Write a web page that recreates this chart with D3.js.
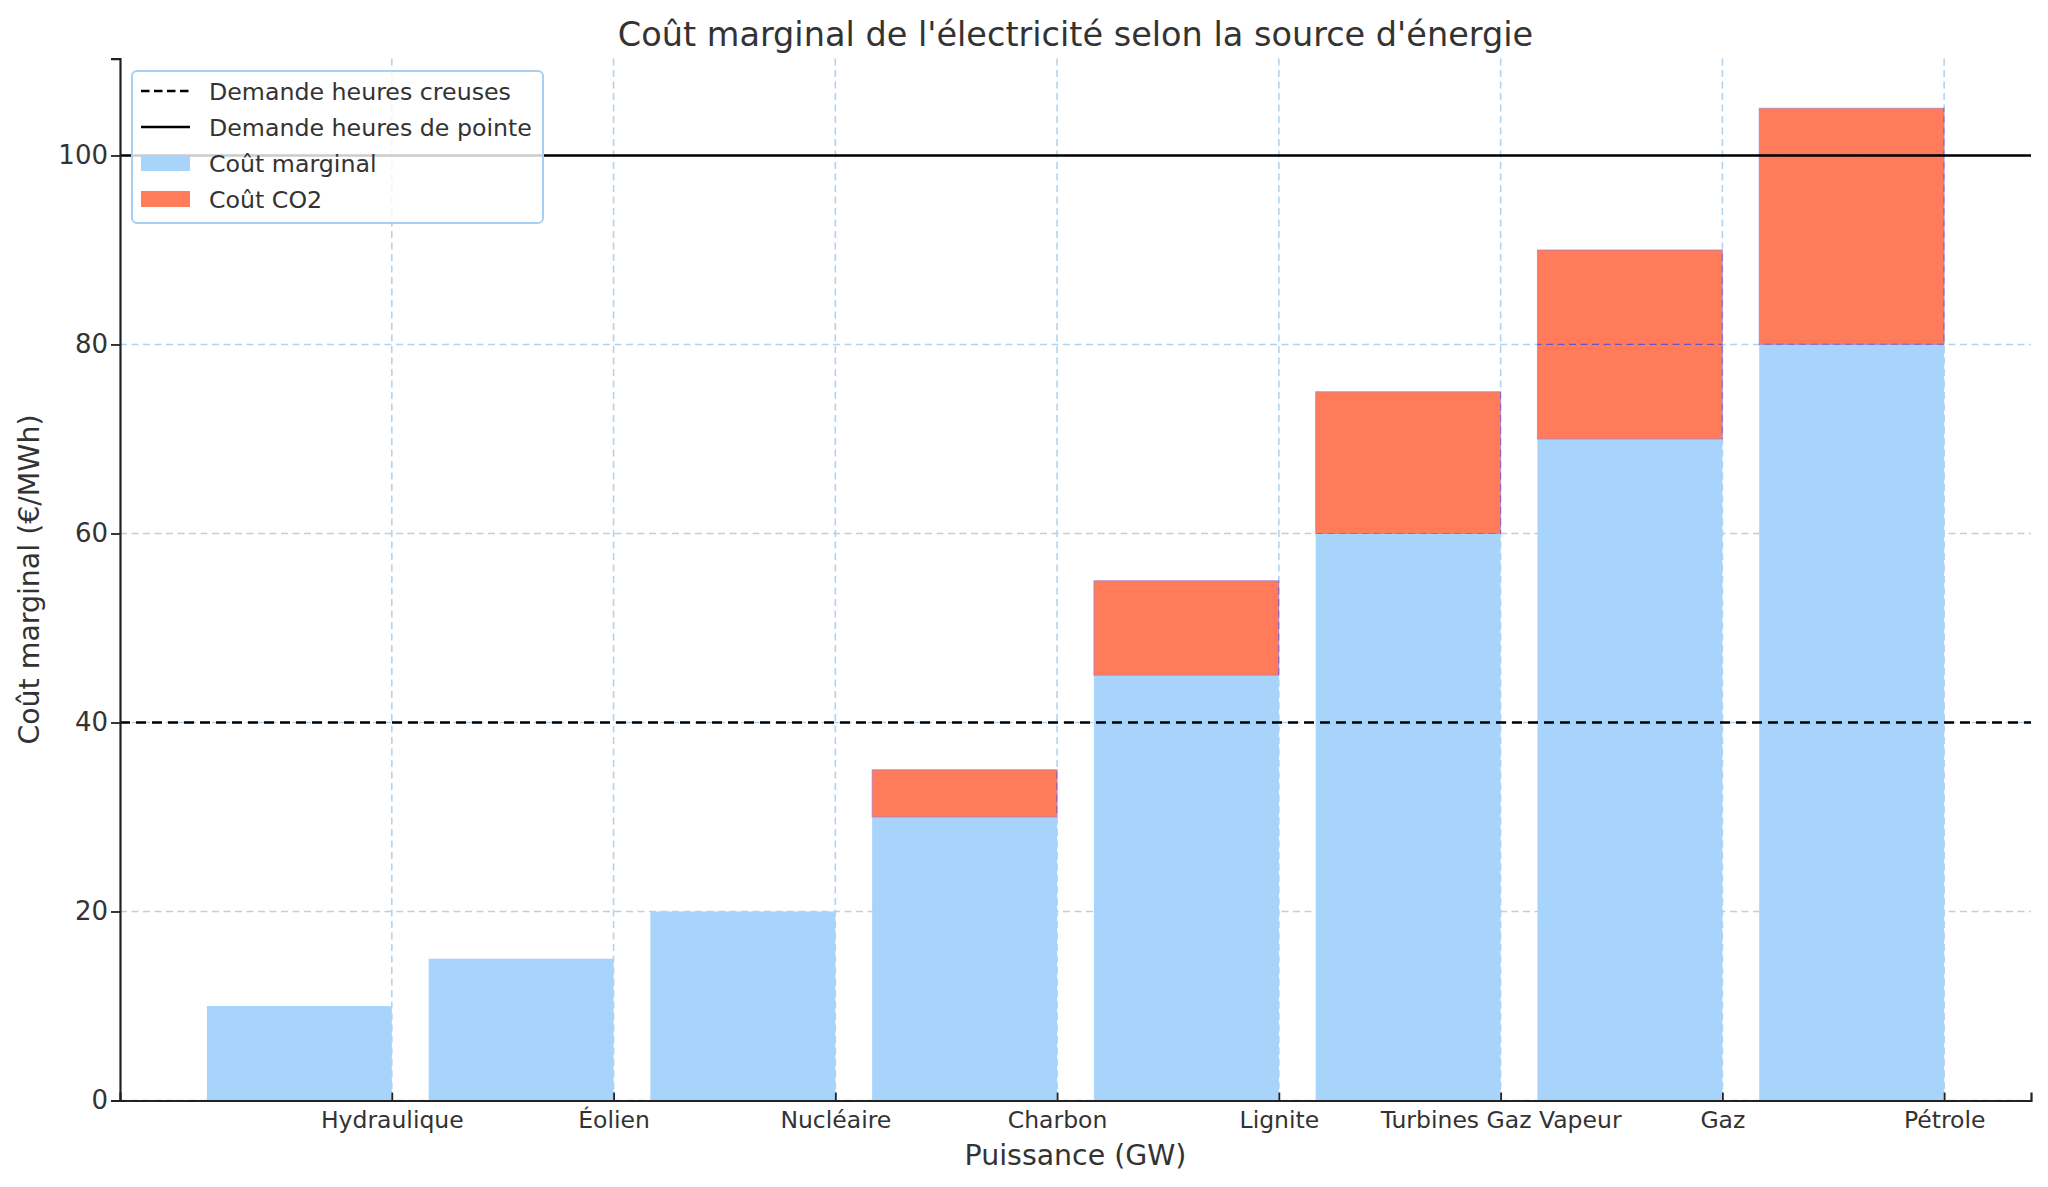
<!DOCTYPE html>
<html>
<head>
<meta charset="utf-8">
<script src="https://cdn.jsdelivr.net/npm/d3@7"></script>
<style>
  body { margin: 0; background: #fff; }
  text { font-family: "DejaVu Sans", sans-serif; fill: #333; }
</style>
</head>
<body>
<div id="chart"></div>
<script>
// Data
const sources = ['Hydraulique', 'Éolien', 'Nucléaire', 'Charbon', 'Lignite', 'Turbines Gaz Vapeur', 'Gaz', 'Pétrole'];
const marginalCost = [10, 15, 20, 30, 45, 60, 70, 80];
const co2Cost = [0, 0, 0, 5, 10, 15, 20, 25];
const offPeakDemand = 40;
const peakDemand = 100;
const yTicks = [0, 20, 40, 60, 80, 100];
const legendLabels = ['Demande heures creuses', 'Demande heures de pointe', 'Coût marginal', 'Coût CO2'];

// Chart dimensions
const margin = { top: 58.6, right: 17, bottom: 86.5, left: 120 };
const width = 2048 - margin.left - margin.right;
const height = 1187 - margin.top - margin.bottom;

const blue = '#a8d3fb';
const coral = '#ff7b5a';
const gridColor = '#b3d3ec';
const barW = 0.834; // bars sit to the left of their tick

// x scale in category index units, with 5% margins like matplotlib
const n = sources.length;
const pad = 0.05 * (n - 1 + barW);
const x = d3.scaleLinear()
  .domain([-barW - pad, n - 1 + pad])
  .range([0, width]);

const totals = marginalCost.map((d, i) => d + co2Cost[i]);
const y = d3.scaleLinear()
  .domain([0, d3.max(totals) * 1.05])
  .range([height, 0]);

const svg = d3.select('#chart')
  .append('svg')
  .attr('width', 2048)
  .attr('height', 1187);

const g = svg.append('g')
  .attr('transform', `translate(${margin.left},${margin.top})`);

function drawGrid(parent, color, w) {
  parent.selectAll(null)
    .data(d3.range(n))
    .enter()
    .append('line')
    .attr('x1', d => x(d)).attr('x2', d => x(d))
    .attr('y1', 0).attr('y2', height)
    .attr('stroke', color)
    .attr('stroke-width', w)
    .attr('stroke-dasharray', '7,4.5');
  parent.selectAll(null)
    .data(yTicks)
    .enter()
    .append('line')
    .attr('x1', 0).attr('x2', width)
    .attr('y1', d => y(d)).attr('y2', d => y(d))
    .attr('stroke', color)
    .attr('stroke-width', w)
    .attr('stroke-dasharray', '7,4.5');
}

// Grid lines (behind the bars)
drawGrid(g.append('g'), gridColor, 1.6);

// Marginal cost bars
g.selectAll('.bar')
  .data(marginalCost)
  .enter()
  .append('rect')
  .attr('class', 'bar')
  .attr('x', (d, i) => x(i - barW))
  .attr('width', (d, i) => x(i) - x(i - barW))
  .attr('y', d => y(d))
  .attr('height', d => height - y(d))
  .attr('fill', blue);

// CO2 cost stacked on top
const co2Rect = sel => sel
  .attr('x', (d, i) => x(i - barW))
  .attr('width', (d, i) => x(i) - x(i - barW))
  .attr('y', (d, i) => y(marginalCost[i] + d))
  .attr('height', (d, i) => y(marginalCost[i]) - y(marginalCost[i] + d));

g.selectAll('.co2')
  .data(co2Cost)
  .enter()
  .append('rect')
  .attr('class', 'co2')
  .call(co2Rect)
  .attr('fill', coral)
  .attr('stroke', '#9b7fd8')
  .attr('stroke-opacity', d => d > 0 ? 0.7 : 0)
  .attr('stroke-width', 1);

// grid shows through the CO2 parts as a thin purple dash
svg.append('defs').append('clipPath').attr('id', 'co2clip')
  .selectAll('rect')
  .data(co2Cost)
  .enter()
  .append('rect')
  .call(co2Rect);
drawGrid(g.append('g').attr('clip-path', 'url(#co2clip)'), '#6a52c8', 1.2);

// Demand lines
g.append('line')
  .attr('x1', 0).attr('x2', width)
  .attr('y1', y(offPeakDemand)).attr('y2', y(offPeakDemand))
  .attr('stroke', '#000')
  .attr('stroke-width', 2.4)
  .attr('stroke-dasharray', '10,6');

g.append('line')
  .attr('x1', 0).attr('x2', width)
  .attr('y1', y(peakDemand)).attr('y2', y(peakDemand))
  .attr('stroke', '#000')
  .attr('stroke-width', 2.4);

// y axis
const yAxis = g.append('g')
  .call(d3.axisLeft(y).tickValues(yTicks).tickSizeOuter(0).tickSize(9).tickPadding(3));
yAxis.select('.domain').attr('stroke', '#222').attr('stroke-width', 2.2);
yAxis.selectAll('.tick line').attr('stroke', '#222').attr('stroke-width', 1.8);
yAxis.selectAll('text').style('font-size', '26px').attr('fill', '#333');

// x axis, ticks pointing inward
const xAxis = g.append('g')
  .attr('transform', `translate(0,${height})`)
  .call(d3.axisBottom(x).tickValues(d3.range(n)).tickFormat(i => sources[i]).tickSizeOuter(0).tickSize(-8));
xAxis.select('.domain').attr('stroke', '#222').attr('stroke-width', 2.2);
xAxis.selectAll('.tick line').attr('stroke', '#222').attr('stroke-width', 1.8);
xAxis.selectAll('text')
  .style('font-size', '23.5px')
  .attr('fill', '#333')
  .attr('y', 27.2)
  .attr('dy', 0);

// Title and axis labels
svg.append('text')
  .attr('x', margin.left + width / 2)
  .attr('y', 45.7)
  .attr('text-anchor', 'middle')
  .style('font-size', '33.5px')
  .text("Coût marginal de l'électricité selon la source d'énergie");

svg.append('text')
  .attr('x', margin.left + width / 2)
  .attr('y', 1165)
  .attr('text-anchor', 'middle')
  .style('font-size', '28.4px')
  .text('Puissance (GW)');

svg.append('text')
  .attr('transform', `translate(39,${margin.top + height / 2}) rotate(-90)`)
  .attr('text-anchor', 'middle')
  .style('font-size', '28.4px')
  .text('Coût marginal (€/MWh)');

// Legend
const legend = svg.append('g').attr('transform', 'translate(132,71)');
legend.append('rect')
  .attr('width', 411)
  .attr('height', 152)
  .attr('rx', 5)
  .attr('fill', '#fff')
  .attr('fill-opacity', 0.8)
  .attr('stroke', '#a9cff2')
  .attr('stroke-width', 2);

const rowY = [20, 56, 92, 128];
legend.append('line')
  .attr('x1', 9).attr('x2', 58).attr('y1', rowY[0]).attr('y2', rowY[0])
  .attr('stroke', '#000').attr('stroke-width', 2.4).attr('stroke-dasharray', '8.5,4.5');
legend.append('line')
  .attr('x1', 9).attr('x2', 58).attr('y1', rowY[1]).attr('y2', rowY[1])
  .attr('stroke', '#000').attr('stroke-width', 2.4);
legend.append('rect')
  .attr('x', 9).attr('y', rowY[2] - 8).attr('width', 49).attr('height', 16)
  .attr('fill', blue);
legend.append('rect')
  .attr('x', 9).attr('y', rowY[3] - 8).attr('width', 49).attr('height', 16)
  .attr('fill', coral);

legend.selectAll('.ltext')
  .data(legendLabels)
  .enter()
  .append('text')
  .attr('x', 77)
  .attr('y', (d, i) => rowY[i] + 8.5)
  .style('font-size', '23.7px')
  .text(d => d);
</script>
</body>
</html>
